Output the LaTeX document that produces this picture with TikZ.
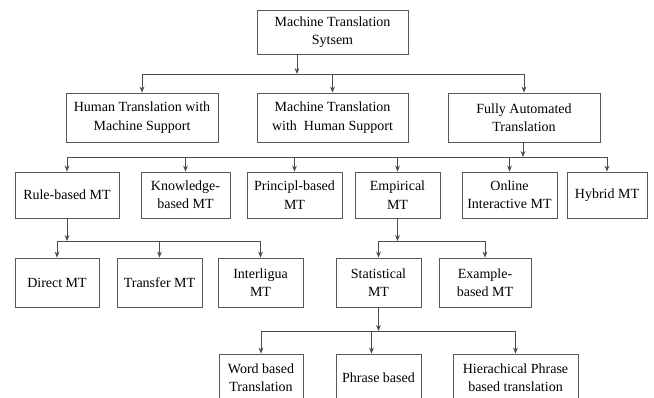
\documentclass[tikz,border=0pt]{standalone}
\usepackage{fontspec}
\setmainfont{Liberation Serif}
\usetikzlibrary{arrows.meta}
\begin{document}
\begin{tikzpicture}[x=0.75pt,y=-0.75pt,
  box/.style={draw=black!65,line width=0.65pt,align=center,inner sep=0pt,
    font=\fontsize{10.5}{13.8}\selectfont},
  link/.style={draw=black!70,line width=0.6pt},
  arr/.style={link,-{Stealth[length=4.5pt,width=3.6pt]}}]
\useasboundingbox (0,0) rectangle (654,398);
\clip (0,0) rectangle (654,398);
\foreach \n/\xa/\ya/\xb/\yb/\t in {
  mts/257/10/408/54/{Machine Translation\\Sytsem},
  hts/66/93/218/142/{Human Translation with\\Machine Support},
  mths/257/93/408/142/{Machine Translation\\with~ Human Support},
  fat/448/93/600/142/{Fully Automated\\Translation},
  rule/15/172/119/218/{Rule-based MT},
  know/141/172/230/218/{Knowledge-\\based MT},
  princ/247/172/342/218/{Principl-based\\MT},
  emp/355/172/440/218/{Empirical\\MT},
  online/462/172/557/218/{Online\\Interactive MT},
  hyb/567/172/647/218/{Hybrid MT},
  direct/15/258/99/307/{Direct MT},
  trans/117/258/202/307/{Transfer MT},
  inter/218/258/303/307/{Interligua\\MT},
  stat/336/258/421/307/{Statistical\\MT},
  ebmt/439/258/531/307/{Example-\\based MT},
  word/219/354/303/402/{Word based\\Translation},
  phrase/336/354/421/402/{Phrase based},
  hier/453/354/578/402/{Hierachical Phrase\\based translation}} {
  \node[box,minimum width={(\xb-\xa)*0.75pt},minimum height={(\yb-\ya)*0.75pt}]
    (\n) at ({(\xa+\xb)/2},{(\ya+\yb)/2}) {\t};
}
% top level
\coordinate (b1) at (297,74);
\draw[arr] (mts.south -| b1) -- (b1);
\draw[link] (hts.north |- b1) -- (fat.north |- b1);
\foreach \c in {hts,mths,fat}
  \draw[arr] (\c.north |- b1) -- (\c.north);
% second level
\coordinate (b2) at (523,157);
\draw[arr] (fat.south -| b2) -- (b2);
\draw[link] (rule.north |- b2) -- (hyb.north |- b2);
\foreach \c in {rule,know,princ,emp,online,hyb}
  \draw[arr] (\c.north |- b2) -- (\c.north);
% third level
\coordinate (b3) at (67,241);
\draw[arr] (rule.south) -- (rule.south |- b3);
\draw[link] (direct.north |- b3) -- (inter.north |- b3);
\foreach \c in {direct,trans,inter}
  \draw[arr] (\c.north |- b3) -- (\c.north);
\draw[arr] (emp.south) -- (emp.south |- b3);
\draw[link] (stat.north |- b3) -- (ebmt.north |- b3);
\foreach \c in {stat,ebmt}
  \draw[arr] (\c.north |- b3) -- (\c.north);
% statistical MT
\coordinate (b4) at (378,331);
\draw[arr] (stat.south) -- (stat.south |- b4);
\draw[link] (word.north |- b4) -- (hier.north |- b4);
\foreach \c/\s in {word/0,phrase/-7,hier/0}
  \draw[arr] ([xshift=\s*0.75pt]\c.north |- b4) -- ([xshift=\s*0.75pt]\c.north);
\end{tikzpicture}
\end{document}
